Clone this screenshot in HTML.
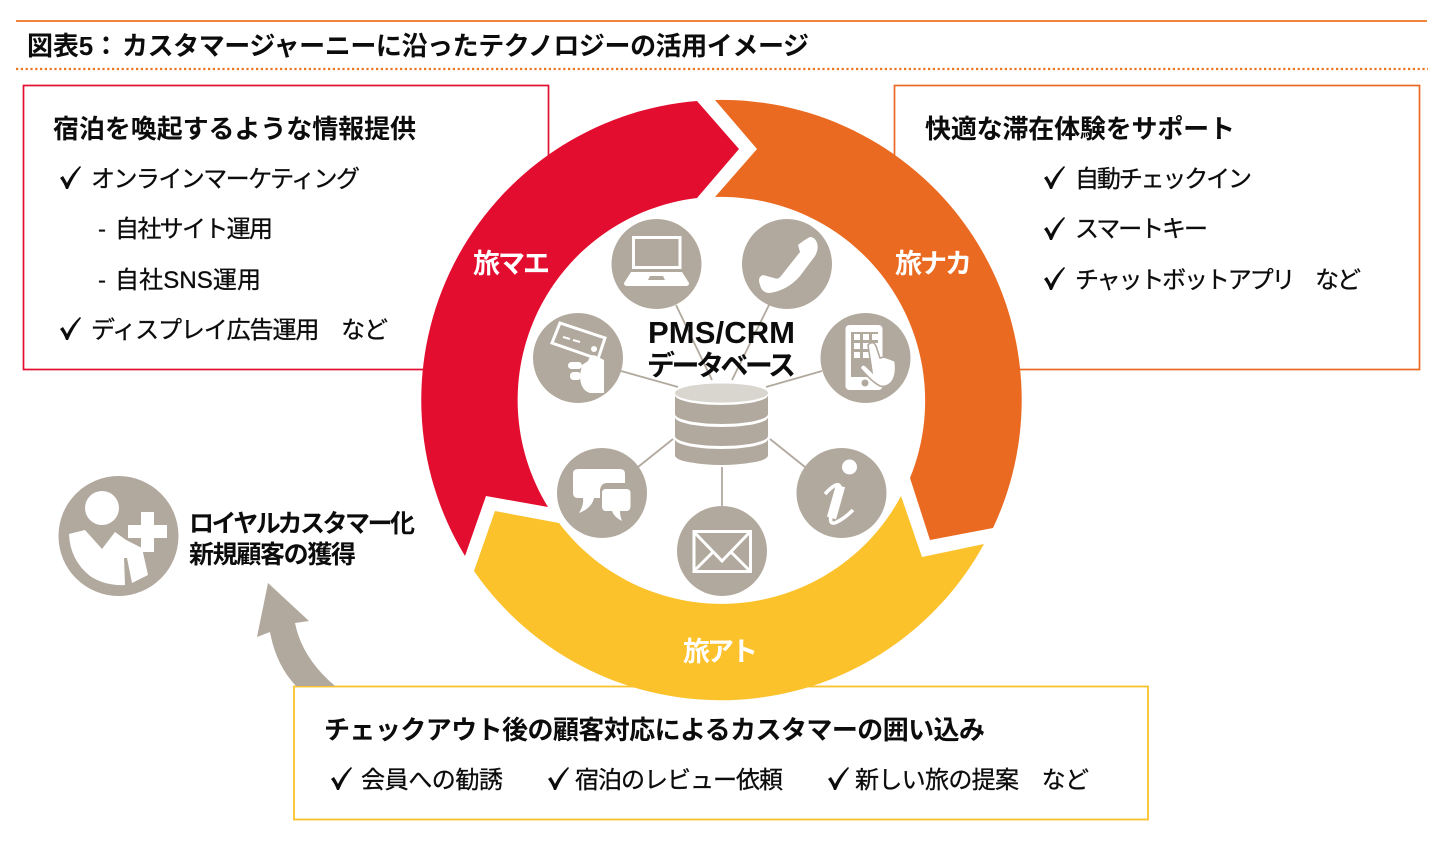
<!DOCTYPE html>
<html lang="ja"><head><meta charset="utf-8"><title>図表5</title>
<style>
html,body{margin:0;padding:0;background:#fff;width:1440px;height:842px;overflow:hidden}
svg{display:block}
text{font-family:"Liberation Sans","Noto Sans CJK JP",sans-serif;fill:#0c0c0c}
.h{font-size:26px;font-weight:700}
.n{font-size:25px;font-weight:700}
.t{font-size:24px;font-weight:400;stroke:#0c0c0c;stroke-width:.3px}
.w{font-size:27px;font-weight:700;fill:#fff}
</style></head><body>
<svg width="1440" height="842" viewBox="0 0 1440 842" xmlns="http://www.w3.org/2000/svg">
<rect width="1440" height="842" fill="#fff"/>
<line x1="16" y1="21" x2="1427" y2="21" stroke="#EE7322" stroke-width="1.7"/>
<line x1="16" y1="69" x2="1428" y2="69" stroke="#EE7322" stroke-width="2.2" stroke-dasharray="2.2 2.6"/>
<text x="27" y="55" font-size="26" font-weight="700" textLength="92">図表5：</text>
<text x="122" y="55" font-size="26" font-weight="700" textLength="687">カスタマージャーニーに沿ったテクノロジーの活用イメージ</text>

<rect x="23.5" y="85.5" width="525" height="284" fill="#fff" stroke="#E30D2F" stroke-width="1.7"/>
<rect x="894.5" y="85.5" width="525" height="284" fill="#fff" stroke="#EB6A22" stroke-width="1.7"/>
<rect x="294" y="686.5" width="854" height="133" fill="#fff" stroke="#FBC22C" stroke-width="1.8"/>

<circle cx="721" cy="400" r="260" fill="#fff"/>
<path d="M697,101 A300,300 0 0 0 465,556 L486,496 L548,507 A203.5,203.5 0 0 1 697,198 L739,149 Z" fill="#E30D2F"/>
<path d="M715,100 A300,300 0 0 1 993,528 L930,540 L910,478 A204,204 0 0 0 715,197 L757,149 Z" fill="#EB6A22"/>
<path d="M984,544 A300,300 0 0 1 474,571 L495,511 L559,523 A203.5,203.5 0 0 0 901,496 L922,557 Z" fill="#FBC22C"/>

<text class="w" x="473" y="273" textLength="77">旅マエ</text>
<text class="w" x="895" y="273" textLength="77">旅ナカ</text>
<text class="w" x="683" y="661" textLength="75">旅アト</text>

<g stroke="#B2A99E" stroke-width="1.8" fill="none">
<line x1="676" y1="305" x2="712" y2="380"/><line x1="769" y1="305" x2="732" y2="380"/>
<line x1="621" y1="371" x2="678" y2="387"/><line x1="822" y1="371" x2="766" y2="387"/>
<line x1="638" y1="467" x2="673" y2="439"/><line x1="805" y1="467" x2="770" y2="439"/>
<line x1="722" y1="467" x2="722" y2="506"/>
</g>

<g fill="#B2A99E">
<circle cx="656.5" cy="264" r="45"/><circle cx="787" cy="264" r="45"/>
<circle cx="578" cy="358" r="45"/><circle cx="865.5" cy="358" r="45"/>
<circle cx="602" cy="493" r="45"/><circle cx="841.5" cy="493" r="45"/>
<circle cx="722" cy="551" r="45"/>
<circle cx="118.5" cy="536" r="60"/>
</g>

<!-- laptop -->
<rect x="633.5" y="237.5" width="46.5" height="30" fill="none" stroke="#fff" stroke-width="3"/>
<path d="M631,272 H682 L689,283 Q689,286 686,286 H627 Q624,286 624,283 Z" fill="#fff"/>
<path d="M650,276 H663 L665,280 H648 Z" fill="#B2A99E"/>
<!-- phone -->
<path d="M810,237 Q815,237 817,243 Q819,249 815,256 L800,276 Q788,290 770,293 Q762,293 760,285 Q757,277 763,275 L774,278 Q778,280 781,276 L800,252 L798,245 Q804,240 810,237Z" fill="#fff"/>
<!-- card -->
<path d="M560,323 L605,338 L598,359 L552,343 Z" fill="#B2A99E" stroke="#fff" stroke-width="3"/>
<path d="M563,337 l7,2 M573,340 l7,2" stroke="#fff" stroke-width="2"/>
<circle cx="594" cy="349" r="3" fill="#fff"/>
<path d="M588,361 Q591,353 596,356 L604,360 V393 H590 Q580,390 580,375 L582,365 Z" fill="#fff"/>
<rect x="568" y="362" width="14" height="7" rx="3.5" fill="#fff"/>
<rect x="570" y="372" width="11" height="8" rx="3.5" fill="#fff"/>
<!-- tablet -->
<rect x="845.5" y="325" width="37" height="65" rx="4" fill="#fff"/>
<rect x="851" y="332" width="27" height="45" fill="#B2A99E"/>
<g fill="#fff">
<rect x="854" y="334" width="6" height="6"/><rect x="863" y="334" width="6" height="6"/><rect x="872" y="334" width="6" height="6"/>
<rect x="854" y="343" width="6" height="6"/><rect x="863" y="343" width="6" height="6"/><rect x="872" y="343" width="6" height="6"/>
<rect x="854" y="352" width="6" height="6"/><rect x="863" y="352" width="6" height="6"/>
</g>
<circle cx="865" cy="383" r="3.5" fill="#B2A99E"/>
<path d="M868,345 Q873,340 876,346 L880,358 L884,357 L887,358 L890,359 L895,361 Q897,372 893,380 Q888,388 880,386 Q872,382 860,368 Q862,363 866,366 L872,372 Z" fill="#fff" stroke="#B2A99E" stroke-width="1.6"/>
<!-- chat -->
<path d="M578,469 H620 Q625,469 625,474 V483 H607 Q601,483 600,490 V498 H594 Q592,508 579,513 Q584,505 583,498 H578 Q573,498 573,493 V474 Q573,469 578,469Z" fill="#fff"/>
<path d="M606,489 H626 Q630.5,489 630.5,493 V506 Q630.5,511 626,511 H620 Q620,516 622,521 Q614,517 612,511 H606 Q602,511 602,506 V493 Q602,489 606,489Z" fill="#fff"/>
<!-- info -->
<circle cx="849.5" cy="467" r="7.5" fill="#fff"/>
<path d="M825,494 Q838,480 840,487 L831,516 Q829,526 837,522 Q845,518 853,510" fill="none" stroke="#fff" stroke-width="3.5"/>
<path d="M840.5,486 L831.5,518" fill="none" stroke="#fff" stroke-width="9.5"/>
<!-- mail -->
<rect x="694" y="531.5" width="56.5" height="40" fill="none" stroke="#fff" stroke-width="3"/>
<path d="M695,533 L722,561 L749,533 M695,570 L714,551 M749,570 L730,551" fill="none" stroke="#fff" stroke-width="3"/>

<!-- database -->
<path d="M675,395 A46.5,10 0 0 0 768,395 V414 A46.5,10 0 0 1 675,414 Z" fill="#B2A99E"/>
<path d="M675,417 A46.5,10 0 0 0 768,417 V436 A46.5,10 0 0 1 675,436 Z" fill="#B2A99E"/>
<path d="M675,439 A46.5,10 0 0 0 768,439 V456 Q766,460 755,462 Q721,468 688,462 Q677,460 675,456 Z" fill="#B2A99E"/>
<ellipse cx="721.5" cy="393" rx="46.5" ry="9.5" fill="#D9D5CF"/>

<text x="648" y="343" font-size="31" font-weight="700" textLength="147" style="font-family:'Liberation Sans',sans-serif">PMS/CRM</text>
<text x="647" y="375" font-size="28" font-weight="700" textLength="149">データベース</text>

<!-- person -->
<circle cx="102" cy="508" r="17" fill="#fff"/>
<path d="M69,534 L85,530 L102,549 L115,532 L126,540 L142,548 L148,575 L132,583 L127,558 L124,558 L125,585 Q105,586 90,576 Q70,560 69,534Z" fill="#fff"/>
<path d="M141,512 H154 V525 H167 V538 H154 V552 H141 V538 H128 V525 H141 Z" fill="#fff"/>
<text class="n" x="189" y="532" textLength="226">ロイヤルカスタマー化</text>
<text class="n" x="189" y="563" textLength="167">新規顧客の獲得</text>
<!-- curved arrow -->
<path d="M268,583 L309,621 L295,623 Q302,658 335,686 L296,686 Q276,665 270,632 L257,637 Z" fill="#B2A99E"/>

<!-- red box -->
<text class="h" x="53" y="138" textLength="363">宿泊を喚起するような情報提供</text>
<text class="t" x="91" y="187" textLength="269">オンラインマーケティング</text>
<text class="t" x="98" y="237">-</text><text class="t" x="115" y="237" textLength="158">自社サイト運用</text>
<text class="t" x="98" y="288">-</text><text class="t" x="115" y="288" textLength="146">自社SNS運用</text>
<text class="t" x="91" y="338" textLength="297">ディスプレイ広告運用　など</text>
<!-- orange box -->
<text class="h" x="925" y="138" textLength="310">快適な滞在体験をサポート</text>
<text class="t" x="1075" y="187" textLength="177">自動チェックイン</text>
<text class="t" x="1075" y="237" textLength="133">スマートキー</text>
<text class="t" x="1075" y="288" textLength="286">チャットボットアプリ　など</text>
<!-- yellow box -->
<text class="h" x="324" y="739" textLength="661">チェックアウト後の顧客対応によるカスタマーの囲い込み</text>
<text class="t" x="361" y="788" textLength="142">会員への勧誘</text>
<text class="t" x="575" y="788" textLength="208">宿泊のレビュー依頼</text>
<text class="t" x="855" y="788" textLength="234">新しい旅の提案　など</text>

<!-- ticks -->
<g fill="#0c0c0c">
<path transform="translate(59,166)" d="M1,12 L4,10 Q6,13 8,17 Q13,7 21,0 L22,1 Q14,11 9,23 L7,23 Q5,17 1,12Z"/>
<path transform="translate(59,317)" d="M1,12 L4,10 Q6,13 8,17 Q13,7 21,0 L22,1 Q14,11 9,23 L7,23 Q5,17 1,12Z"/>
<path transform="translate(1043,166)" d="M1,12 L4,10 Q6,13 8,17 Q13,7 21,0 L22,1 Q14,11 9,23 L7,23 Q5,17 1,12Z"/>
<path transform="translate(1043,217)" d="M1,12 L4,10 Q6,13 8,17 Q13,7 21,0 L22,1 Q14,11 9,23 L7,23 Q5,17 1,12Z"/>
<path transform="translate(1043,267)" d="M1,12 L4,10 Q6,13 8,17 Q13,7 21,0 L22,1 Q14,11 9,23 L7,23 Q5,17 1,12Z"/>
<path transform="translate(330,767)" d="M1,12 L4,10 Q6,13 8,17 Q13,7 21,0 L22,1 Q14,11 9,23 L7,23 Q5,17 1,12Z"/>
<path transform="translate(547,767)" d="M1,12 L4,10 Q6,13 8,17 Q13,7 21,0 L22,1 Q14,11 9,23 L7,23 Q5,17 1,12Z"/>
<path transform="translate(827,767)" d="M1,12 L4,10 Q6,13 8,17 Q13,7 21,0 L22,1 Q14,11 9,23 L7,23 Q5,17 1,12Z"/>
</g>
</svg>
</body></html>
